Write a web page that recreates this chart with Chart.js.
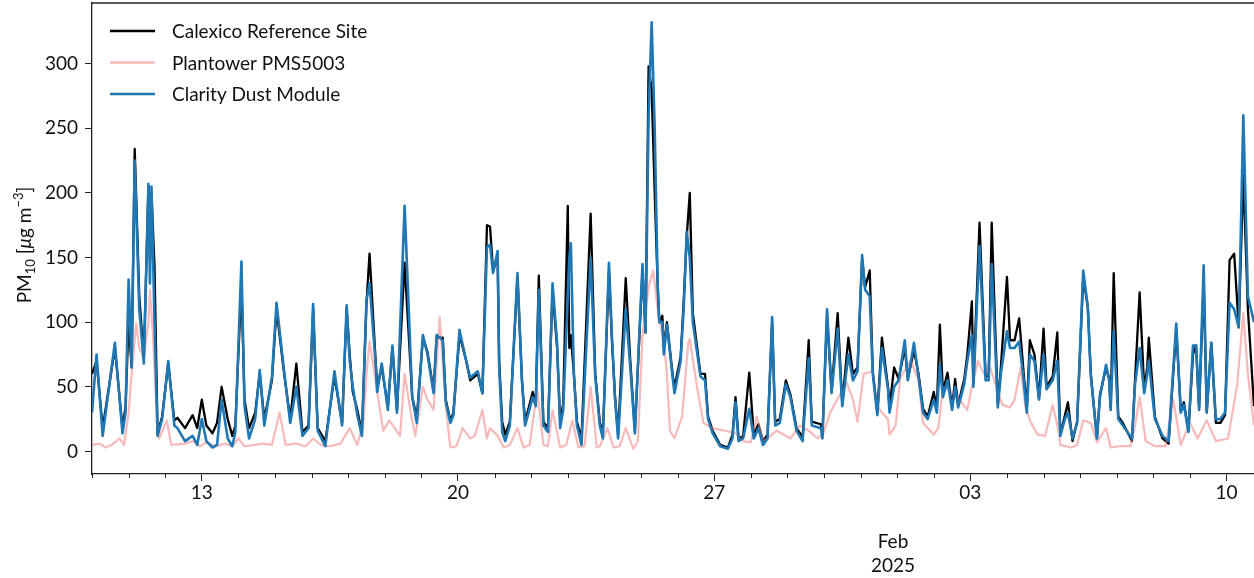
<!DOCTYPE html>
<html>
<head>
<meta charset="utf-8">
<script src="https://cdn.jsdelivr.net/npm/chart.js@4.4.1/dist/chart.umd.min.js"></script>
<style>
  html, body { margin: 0; padding: 0; background: #fff; overflow: hidden; }
  #wrap { width: 1254px; height: 578px; }
</style>
</head>
<body>
<div id="wrap"><canvas id="pmChart"></canvas></div>
<script>
// times are hours since 2025-01-10 00:00
const refHours = [0,3,7,15,20,22,24,26,28,31,34,37,38,39,41,43,46,50,54,56,61,66,69,72,75,79,82,85,89,92,94,98,100,103,107,110,113,118,121,126,130,134,138,142,145,148,153,159,164,167,169,171,174,177,180,182,186,187,190,194,197,200,205,210,213,217,220,224,226,230,232,235,237,241,245,248,253,256,259,261,263,266,267,269,271,274,279,282,284,289,291,293,296,299,302,305,307,309,312,313,314,316,318,321,327,330,333,335,339,341,343,345,350,353,356,361,363,365,367,369,371,372,374,375,377,381,382,386,388,390,392,394,399,402,404,407,412,417,420,422,424,427,431,434,437,440,443,446,448,451,455,458,462,466,470,472,478,479,482,485,489,492,496,499,502,505,507,510,512,515,518,522,523,526,529,533,535,539,542,545,548,552,554,556,558,561,564,566,568,572,574,577,578,582,586,588,590,594,596,600,602,605,608,611,613,615,618,621,624,626,630,633,635,638,640,643,646,650,653,655,659,661,665,667,668,670,673,676,682,684,687,690,692,693,697,699,702,706,711,714,716,719,722,724,726,729,731,734,737,740,743,746,749,752,755,758,762];
const refPM = [60,70,18,80,18,35,100,65,234,120,72,205,150,200,143,14,27,68,24,26,18,28,18,40,20,14,22,50,25,12,20,130,40,18,30,60,25,55,110,60,25,68,15,20,110,18,8,58,22,110,75,46,32,14,115,153,70,50,65,35,80,32,146,42,26,88,77,47,88,88,40,24,30,90,72,55,60,45,175,174,140,150,70,23,13,23,135,54,23,46,37,136,23,18,125,80,23,37,190,80,90,60,23,10,184,60,23,13,140,85,42,13,134,70,16,140,92,298,280,200,127,100,105,80,100,57,50,73,116,166,200,107,60,60,27,16,5,3,13,42,10,12,61,13,21,8,13,100,23,25,55,44,18,11,86,23,21,13,105,47,107,37,88,60,65,148,127,140,62,30,88,50,34,65,56,80,56,78,60,33,27,46,33,98,46,61,34,56,36,56,75,116,53,177,58,58,177,36,65,135,86,86,103,60,33,86,75,41,95,50,58,92,13,28,38,8,23,135,112,60,10,44,65,56,34,138,27,22,8,56,123,49,65,88,27,20,10,6,95,31,38,16,75,82,34,130,31,84,22,22,28,148,153,96,214,110,35];
const clarityPM = [30,75,12,84,14,30,133,65,225,110,68,207,130,205,100,12,25,70,20,18,8,12,5,25,8,3,5,40,10,4,15,147,35,10,25,63,20,58,115,62,22,50,12,18,114,16,4,62,20,113,70,50,28,12,117,130,68,46,68,32,82,30,190,42,22,90,75,45,90,86,38,22,28,94,72,57,62,45,158,160,138,155,65,15,8,20,138,54,20,42,35,125,20,15,130,84,18,32,120,150,161,60,20,5,150,58,20,10,146,88,40,10,110,65,14,145,92,260,332,250,127,100,100,75,98,55,45,70,110,170,150,100,58,55,25,14,4,2,10,38,8,10,33,10,18,5,10,104,20,22,52,42,16,8,72,20,18,10,110,45,95,35,75,55,62,152,125,120,60,28,80,48,30,50,55,86,55,84,58,30,25,40,30,67,42,55,32,50,34,52,70,90,50,159,55,55,145,34,60,93,80,80,85,55,30,75,70,40,75,48,55,70,12,25,30,10,22,140,112,58,10,42,67,55,32,93,25,20,10,52,80,45,60,70,25,20,12,8,99,30,36,15,82,82,32,144,30,84,25,25,30,115,110,96,260,120,100];

const plantowerHours = [0,5,9,13,18,21,24,26,29,31,34,37,38,40,42,44,49,52,61,66,71,75,81,87,92,96,100,107,112,118,123,127,134,140,145,150,156,163,169,174,178,180,182,186,187,191,195,202,205,209,212,217,220,224,228,232,235,239,243,248,251,256,259,261,266,270,274,279,283,287,292,296,299,302,307,311,315,319,323,327,331,333,338,342,346,350,355,358,361,365,368,371,375,377,379,382,387,391,392,397,401,407,415,422,427,432,436,440,445,449,458,464,470,476,480,484,491,495,499,502,506,512,515,518,522,523,527,530,537,542,545,552,555,558,566,569,574,577,581,585,589,593,597,602,605,609,612,615,620,625,630,634,635,642,646,650,655,659,665,668,674,681,684,687,691,697,704,709,714,720,725,731,737,745,751,755,758,762];
const plantowerPM = [5,6,3,5,10,5,30,60,99,80,73,100,125,90,40,10,24,5,6,8,4,7,4,6,4,10,4,5,6,5,30,5,6,4,10,5,4,6,18,5,23,60,85,55,46,16,24,12,60,30,12,50,40,32,104,35,3,4,18,10,12,32,10,18,12,3,5,18,3,5,47,5,4,32,3,5,24,3,4,50,3,4,18,3,4,18,2,8,90,127,140,110,84,60,16,10,27,84,87,48,22,18,16,14,8,7,27,8,12,16,10,20,16,10,15,30,45,53,40,23,60,62,35,30,25,13,20,57,70,55,22,13,18,50,45,40,32,50,70,60,65,50,36,34,40,65,35,24,13,12,36,15,5,3,5,24,22,7,18,3,4,4,20,42,8,4,4,40,5,22,10,24,8,10,52,107,60,20];

const yTicks = [0, 50, 100, 150, 200, 250, 300];
const weekTickHours = [72, 240, 408, 576, 744];
const weekTickLabels = ['13', '20', '27', '03', '10'];
const dayTickHours = [];
for (let h = 0; h <= 762; h += 24) dayTickHours.push(h);

const toPoints = (xs, ys) => xs.map((x, i) => ({ x: x, y: ys[i] }));

const FONT = 'Lato, "Open Sans", sans-serif';

// extra drawing: top spine, minor ticks, legend, axis texts
const decorations = {
  id: 'decorations',
  afterDraw(chart) {
    const ctx = chart.ctx;
    const area = chart.chartArea;
    const xs = chart.scales.x;
    ctx.save();

    // top spine
    ctx.strokeStyle = '#222';
    ctx.lineWidth = 1.3;
    ctx.beginPath();
    ctx.moveTo(area.left, area.top);
    ctx.lineTo(area.right, area.top);
    ctx.stroke();

    // minor (daily) ticks
    ctx.lineWidth = 1;
    dayTickHours.forEach(h => {
      if (weekTickHours.includes(h)) return;
      const px = Math.round(xs.getPixelForValue(h)) + 0.5;
      ctx.beginPath();
      ctx.moveTo(px, area.bottom);
      ctx.lineTo(px, area.bottom + 4);
      ctx.stroke();
    });

    // legend, in plot order
    const legendOrder = [0, 1, 2];
    legendOrder.forEach((di, i) => {
      const ds = chart.data.datasets[di];
      const y = 31 + i * 31.5;
      ctx.strokeStyle = ds.borderColor;
      ctx.lineWidth = 2.4;
      ctx.beginPath();
      ctx.moveTo(110, y);
      ctx.lineTo(155, y);
      ctx.stroke();
      ctx.fillStyle = '#111';
      ctx.font = '19px ' + FONT;
      ctx.textAlign = 'left';
      ctx.textBaseline = 'middle';
      ctx.fillText(ds.label, 172, y + 1);
    });

    // y axis title with sub/superscript
    const parts = [
      { t: 'PM', f: '19px ' + FONT, dy: 0 },
      { t: '10', f: '13px ' + FONT, dy: 4 },
      { t: ' [', f: '19px ' + FONT, dy: 0 },
      { t: 'μ', f: 'italic 19px ' + FONT, dy: 0 },
      { t: 'g m', f: '19px ' + FONT, dy: 0 },
      { t: '−3', f: '13px ' + FONT, dy: -8 },
      { t: ']', f: '19px ' + FONT, dy: 0 }
    ];
    let total = 0;
    parts.forEach(p => { ctx.font = p.f; p.w = ctx.measureText(p.t).width; total += p.w; });
    ctx.translate(31, 245);
    ctx.rotate(-Math.PI / 2);
    ctx.fillStyle = '#111';
    ctx.textAlign = 'left';
    ctx.textBaseline = 'alphabetic';
    let cx = -total / 2;
    parts.forEach(p => { ctx.font = p.f; ctx.fillText(p.t, cx, p.dy); cx += p.w; });
    ctx.setTransform(1, 0, 0, 1, 0, 0);

    // month / year offset label
    ctx.fillStyle = '#111';
    ctx.font = '19px ' + FONT;
    ctx.textAlign = 'center';
    ctx.textBaseline = 'middle';
    ctx.fillText('Feb', 893, 542);
    ctx.fillText('2025', 893, 566);
    ctx.restore();
  }
};

new Chart(document.getElementById('pmChart'), {
  type: 'line',
  data: {
    datasets: [
      {
        label: 'Calexico Reference Site',
        data: toPoints(refHours, refPM),
        borderColor: '#000000',
        borderWidth: 2.3,
        order: 3
      },
      {
        label: 'Plantower PMS5003',
        data: toPoints(plantowerHours, plantowerPM),
        borderColor: 'rgba(240, 128, 128, 0.55)',
        borderWidth: 2.2,
        order: 2
      },
      {
        label: 'Clarity Dust Module',
        data: toPoints(refHours, clarityPM),
        borderColor: '#1f77b4',
        borderWidth: 2.6,
        order: 1
      }
    ]
  },
  options: {
    responsive: true,
    maintainAspectRatio: false,
    animation: false,
    layout: { padding: { top: 3, left: 0, right: 0, bottom: 0 } },
    elements: {
      point: { radius: 0 },
      line: { tension: 0, borderJoinStyle: 'round' }
    },
    plugins: {
      legend: { display: false },
      tooltip: { enabled: false }
    },
    scales: {
      x: {
        type: 'linear',
        min: 0,
        max: 762,
        afterBuildTicks: scale => { scale.ticks = weekTickHours.map(v => ({ value: v })); },
        afterFit: scale => {
          scale.height = 104;
          scale.paddingLeft = 0;
          scale.paddingRight = 0;
        },
        ticks: {
          autoSkip: false,
          maxRotation: 0,
          padding: 0,
          color: '#111',
          font: { family: FONT, size: 19 },
          callback: value => weekTickLabels[weekTickHours.indexOf(value)]
        },
        grid: { drawOnChartArea: false, tickLength: 7, tickColor: '#222', tickWidth: 1 },
        border: { color: '#222', width: 1.3 }
      },
      y: {
        min: -17.5,
        max: 347,
        afterBuildTicks: scale => { scale.ticks = yTicks.map(v => ({ value: v })); },
        afterFit: scale => {
          scale.width = 92;
          scale.paddingTop = 0;
          scale.paddingBottom = 0;
        },
        ticks: {
          padding: 7,
          color: '#111',
          font: { family: FONT, size: 19 }
        },
        grid: { drawOnChartArea: false, tickLength: 7, tickColor: '#222', tickWidth: 1 },
        border: { color: '#222', width: 1.3 }
      }
    }
  },
  plugins: [decorations]
});
</script>
</body>
</html>
